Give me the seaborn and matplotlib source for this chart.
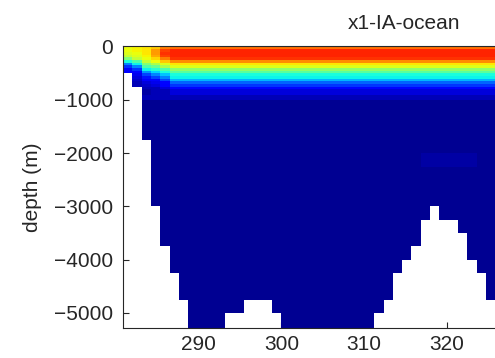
import numpy as np
import matplotlib
matplotlib.use("Agg")
import matplotlib.pyplot as plt
import seaborn as sns

# ---------------- data ----------------
# model depth levels (cell edges, m)
depth_edges = [0, 50, 100, 150, 200, 250, 300, 350, 400, 450, 500, 550, 600, 650,
               700, 750, 800, 900, 1000, 1250, 1500, 1750, 2000, 2250, 2500, 2750,
               3000, 3250, 3500, 3750, 4000, 4250, 4500, 4750, 5000, 5250, 5500]

# longitude grid (cell edges, degrees E)
lon_first_edge = 280.85
lon_step = 1.125
n_cols = 42

# typical temperature profile (deg C) for each level
profile = [23.7, 25.8, 26.1, 26.1, 25.5, 22.8, 19.8, 18.3, 15.9, 13.8, 11.7,
           10.8, 9.0, 6.6, 5.4, 3.9, 2.4, 1.5, 0.9, 0.7, 0.6, 0.5, 0.5, 0.5,
           0.5, 0.5, 0.5, 0.5, 0.5, 0.5, 0.5, 0.5, 0.5, 0.5, 0.5, 0.5]

# cooler upper ocean near the western boundary (columns 0..4)
west_profiles = [
    [19.2, 18.9, 18.6, 17.4, 15.0, 11.4, 7.5, 5.4, 4.2, 3.6],
    [19.5, 19.5, 19.2, 18.6, 17.4, 13.5, 10.8, 7.5, 5.4, 3.9, 3.0, 2.4, 2.1, 1.8, 1.5],
    [19.8, 20.1, 19.8, 19.5, 18.9, 17.4, 15.0, 13.2, 10.8, 8.4, 6.0, 4.5, 3.3, 2.7, 2.1, 1.5, 1.2],
    [21.0, 22.2, 22.2, 21.6, 20.4, 18.9, 16.5, 14.4, 12.0, 9.9, 7.5, 5.7, 4.2, 3.0, 2.4, 1.8, 1.5],
    [23.4, 25.2, 25.5, 24.9, 23.4, 21.0, 18.6, 16.5, 13.5, 11.4, 9.6, 7.8, 5.7, 4.2, 3.3, 2.4, 1.8],
]

# ocean bottom depth (m) for each longitude column
bottom_depth = [500, 750, 1750, 3000, 3750, 4250, 4750, 5500, 5500, 5500, 5500,
                5000, 5000, 4750, 4750, 4750, 5000, 5500, 5500, 5500, 5500, 5500,
                5500, 5500, 5500, 5500, 5500, 5000, 4750, 4250, 4000, 3750, 3250,
                3000, 3250, 3250, 3500, 4000, 4250, 4750, 4750, 5000]

# slightly warmer deep water patch
patch_cols = [32, 33, 34, 35, 36, 37]
patch_level = 22
patch_temp = 1.0

# ---------------- build field ----------------
d_edges = np.array(depth_edges, dtype=float)
d_top = d_edges[:-1]
lon_edges = lon_first_edge + lon_step * np.arange(n_cols + 1)

field = np.tile(np.array(profile)[:, None], (1, n_cols)).astype(float)
for c, prof in enumerate(west_profiles):
    field[:len(prof), c] = prof
for c in patch_cols:
    field[patch_level, c] = patch_temp
for c, bd in enumerate(bottom_depth):
    field[d_top >= bd, c] = np.nan

# ---------------- plot ----------------
sns.set_theme(style="white")
plt.rcParams["font.family"] = ["Liberation Sans", "DejaVu Sans"]
plt.rcParams["axes.unicode_minus"] = True

fig = plt.figure(figsize=(4.95, 3.58), dpi=100)
ax = fig.add_axes([123 / 495, 30 / 358, 562 / 495, 282 / 358])

cmap = matplotlib.colormaps["jet"].resampled(64)
ax.pcolormesh(lon_edges, -d_edges, field, cmap=cmap, vmin=0, vmax=30,
              shading="flat", antialiased=False, rasterized=True)

ax.set_xlim(lon_first_edge, 348.8)
ax.set_ylim(-5282, 14)
ax.set_xticks([290, 300, 310, 320])
ax.set_yticks([0, -1000, -2000, -3000, -4000, -5000])

ink = "#262626"
fs = 15
ax.tick_params(axis="both", direction="in", length=4, width=0.8, colors=ink,
               labelsize=fs, left=True, bottom=True, top=False, right=False)
ax.tick_params(axis="x", pad=5)
ax.tick_params(axis="y", pad=7)
for s in ax.spines.values():
    s.set_color(ink)
    s.set_linewidth(0.8)

ax.set_ylabel("depth (m)", fontsize=fs, color=ink, labelpad=9)
ax.set_title("x1-IA-ocean", fontsize=fs, color=ink, pad=12)

fig.savefig("out.png", dpi=100, facecolor="white")
